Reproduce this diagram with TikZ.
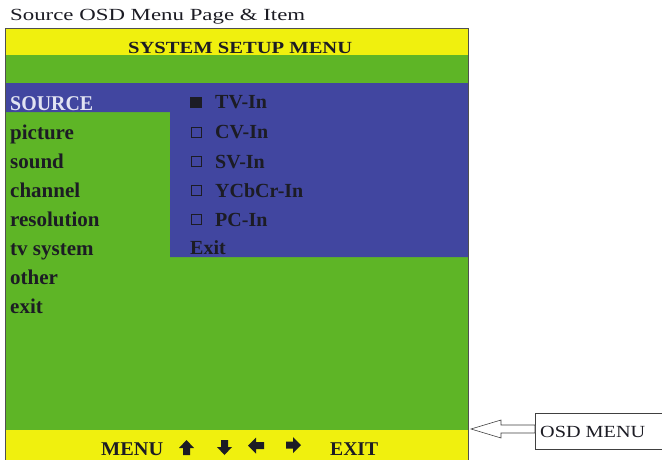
\documentclass[tikz,border=0pt]{standalone}
\usepackage{fontspec}
\setmainfont{Liberation Serif}
\usepackage{graphicx}
\definecolor{osdyellow}{HTML}{F0F00E}
\definecolor{osdgreen}{HTML}{5EB526}
\definecolor{osdblue}{HTML}{4146A0}
\definecolor{srcwhite}{HTML}{E2E4F2}
\definecolor{ink}{HTML}{1C1C24}
\definecolor{framegray}{HTML}{505050}
\newcommand\fitw[2]{\resizebox{#1}{\height}{#2}}
\begin{document}
\begin{tikzpicture}[x=1pt,y=-1pt,
  txt/.style={anchor=base west,inner sep=0pt,text=ink},
  item/.style={txt,font=\fontsize{21}{21}\selectfont\bfseries},
  sub/.style={txt,font=\fontsize{20}{20}\selectfont\bfseries},
  hdr/.style={txt,font=\fontsize{17}{17}\selectfont\bfseries},
  bar/.style={txt,font=\fontsize{19.5}{19.5}\selectfont\bfseries},
  chk/.style={draw=ink,line width=0.9pt},
  glyph/.style={fill=ink},
  callout/.style={draw=black!75,line width=0.6pt,fill=white}]
\useasboundingbox (0,0) rectangle (662,459);
% title
\node[txt,font=\fontsize{17}{17}\selectfont] (title) at (10,20) {\fitw{295pt}{Source OSD Menu Page \& Item}};
% screen
\fill[osdgreen] (5,28) rectangle (468,470);
\fill[osdyellow] (5,28) rectangle (468,55);
\fill[osdyellow] (5,430) rectangle (468,470);
\fill[osdblue] (5,83) -- (468,83) -- (468,257) -- (170,257) -- (170,112) -- (5,112) -- cycle;
\draw[framegray,line width=0.8pt] (5,28) rectangle (468,470);
\node[hdr] (head) at (128,53) {\fitw{224pt}{SYSTEM SETUP MENU}};
% left menu
\node[item,text=srcwhite] (m1) at (10,110) {\fitw{83pt}{SOURCE}};
\node[item] (m2) at (10,139) {picture};
\node[item] (m3) at (10,168) {sound};
\node[item] (m4) at (10,197) {channel};
\node[item] (m5) at (10,226) {resolution};
\node[item] (m6) at (10,255) {tv system};
\node[item] (m7) at (10,284) {other};
\node[item] (m8) at (10,313) {exit};
% sub menu
\fill[ink] (190,97) rectangle (202,108);
\draw[chk] (191,127) rectangle (201,137);
\draw[chk] (191,156) rectangle (201,166);
\draw[chk] (191,185) rectangle (201,195);
\draw[chk] (191,214) rectangle (201,224);
\node[sub] (s1) at (215,108) {TV-In};
\node[sub] (s2) at (215,138) {CV-In};
\node[sub] (s3) at (215,168) {SV-In};
\node[sub] (s4) at (215,197) {YCbCr-In};
\node[sub] (s5) at (215,226) {PC-In};
\node[sub] (s6) at (190,254) {Exit};
% bottom bar
\node[bar] (menu) at (101,455) {\fitw{62pt}{MENU}};
\node[bar] (exit) at (330,455) {\fitw{48pt}{EXIT}};
\fill[glyph] (186.5,440) -- (194,448) -- (190,448) -- (190,455) -- (183,455) -- (183,448) -- (179,448) -- cycle;
\fill[glyph] (224.5,455) -- (232,447) -- (228,447) -- (228,440) -- (221,440) -- (221,447) -- (217,447) -- cycle;
\fill[glyph] (248,445.5) -- (256,437.5) -- (256,442) -- (264,442) -- (264,449) -- (256,449) -- (256,453.5) -- cycle;
\fill[glyph] (301,445) -- (293,437) -- (293,441.5) -- (286,441.5) -- (286,448.5) -- (293,448.5) -- (293,453) -- cycle;
% callout
\node[callout,anchor=west,minimum width=140pt,minimum height=36pt,inner sep=0pt] (osd) at (535,431) {};
\node[txt,font=\fontsize{17}{17}\selectfont] (osdtxt) at (540,437) {\fitw{105pt}{OSD MENU}};
\coordinate (tip) at (471,429);
\draw[callout] (tip) -- (501,420) -- (501,425) -- (osd.west |- 0,425) -- (osd.west |- 0,433) -- (501,433) -- (501,438) -- cycle;
\end{tikzpicture}
\end{document}
